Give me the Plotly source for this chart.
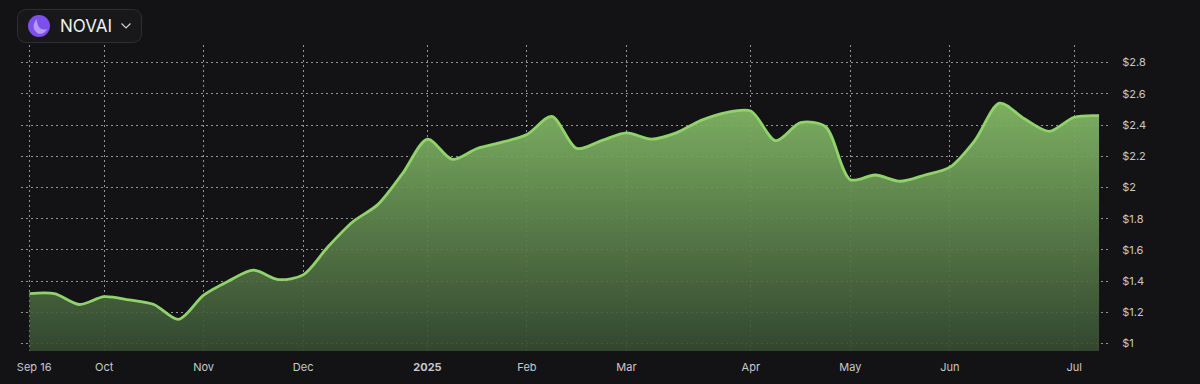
import plotly.graph_objects as go

weeks = list(range(44))
prices = [1.32, 1.32, 1.25, 1.30, 1.28, 1.25, 1.155, 1.31, 1.40, 1.47, 1.41, 1.44,
          1.62, 1.78, 1.89, 2.09, 2.31, 2.18, 2.25, 2.29, 2.34, 2.455, 2.25, 2.30,
          2.35, 2.31, 2.35, 2.43, 2.48, 2.49, 2.30, 2.415, 2.39, 2.05, 2.08, 2.04,
          2.08, 2.13, 2.30, 2.54, 2.44, 2.36, 2.45, 2.46]
x_tick_weeks = [0, 3, 7, 11, 16, 20, 24, 29, 33, 37, 42]
x_tick_labels = ["\u00a0\u00a0\u00a0Sep 16", "Oct", "Nov", "Dec", "<b>2025</b>", "Feb", "Mar", "Apr", "May", "Jun", "Jul"]
y_tick_values = [1, 1.2, 1.4, 1.6, 1.8, 2, 2.2, 2.4, 2.6, 2.8]
y_tick_labels = ["$1", "$1.2", "$1.4", "$1.6", "$1.8", "$2", "$2.2", "$2.4", "$2.6", "$2.8"]
token = "NOVAI"

L, R, T, B = 21, 1110, 45, 351
W, H = 1200, 384
BG = "#131315"
FONT = "Inter, 'Noto Sans', sans-serif"

def px(x):
    return (x - L) / (R - L)

def py(y):
    return 1 - (y - T) / (B - T)

fig = go.Figure()
fig.add_trace(go.Scatter(
    x=weeks, y=prices, mode="lines",
    line=dict(color="#90d36b", width=2.8, shape="spline", smoothing=0.85),
    fill="tozeroy",
    fillgradient=dict(
        type="vertical",
        colorscale=[[0, "rgba(133,188,103,0.93)"], [1, "rgba(54,76,50,0.9)"]],
        start=2.55, stop=0.95,
    ),
    hoverinfo="skip", showlegend=False,
))

grid = dict(showgrid=True, gridcolor="rgba(255,255,255,0.55)", griddash="1.5px,3.5px", gridwidth=1,
            zeroline=False, showline=False, fixedrange=True, automargin=False)

fig.update_layout(
    width=W, height=H,
    margin=dict(l=L, r=W - R, t=T, b=H - B, pad=0, autoexpand=False),
    paper_bgcolor=BG, plot_bgcolor=BG,
    font=dict(family=FONT, color="#c9c9cb", size=11),
    xaxis=dict(range=[-0.342, 43.44], tickmode="array", tickvals=x_tick_weeks, ticktext=x_tick_labels,
               ticks="outside", ticklen=6, tickcolor="rgba(0,0,0,0)", **grid),
    yaxis=dict(range=[0.952, 2.913], side="right", tickmode="array", tickvals=y_tick_values,
               ticktext=y_tick_labels, ticks="outside", ticklen=9, tickcolor="rgba(0,0,0,0)", **grid),
    shapes=[
        dict(type="path", xref="paper", yref="paper",
             path=(f"M {px(27)} {py(9.5)} L {px(132)} {py(9.5)} Q {px(141.5)} {py(9.5)} {px(141.5)} {py(19)} "
                   f"L {px(141.5)} {py(33)} Q {px(141.5)} {py(42.5)} {px(132)} {py(42.5)} "
                   f"L {px(27)} {py(42.5)} Q {px(17.5)} {py(42.5)} {px(17.5)} {py(33)} "
                   f"L {px(17.5)} {py(19)} Q {px(17.5)} {py(9.5)} {px(27)} {py(9.5)} Z"),
             fillcolor="#18181a", line=dict(color="#2e2e30", width=1)),
        dict(type="circle", xref="paper", yref="paper",
             x0=px(28), x1=px(50), y0=py(37), y1=py(15),
             fillcolor="#7d4fee", line=dict(width=0)),
        dict(type="path", xref="paper", yref="paper",
             path=(f"M {px(36.5)} {py(19)} Q {px(30)} {py(28)} {px(38)} {py(33.5)} Q {px(44)} {py(35)} {px(47)} {py(29)} "
                   f"Q {px(38)} {py(32)} {px(36.5)} {py(19)} Z"),
             fillcolor="#b79cf5", line=dict(width=0)),
        dict(type="path", xref="paper", yref="paper",
             path=f"M {px(121.5)} {py(23.5)} L {px(126)} {py(28)} L {px(130.5)} {py(23.5)}",
             line=dict(color="#d0d0d2", width=1.2)),
    ],
    annotations=[
        dict(text=token, xref="paper", yref="paper", x=px(58), y=py(26), xanchor="left", yanchor="middle",
             showarrow=False, font=dict(family=FONT, size=17, color="#f0f0f0")),
    ],
)
fig.write_html("out.html", config=dict(displayModeBar=False),
               post_script="document.body.style.margin='0';document.body.style.background='#131315';")
